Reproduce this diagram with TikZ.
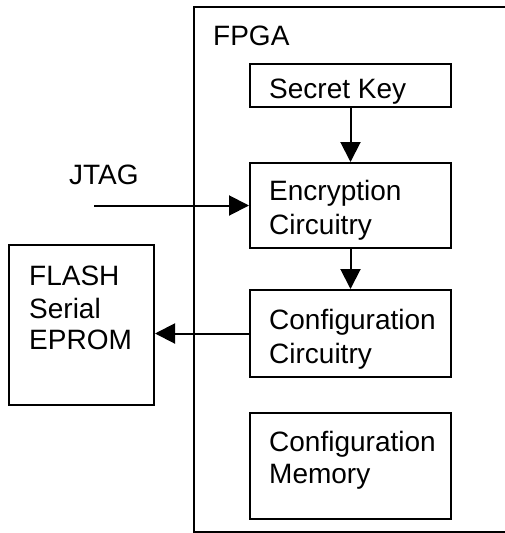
\documentclass[tikz,border=0pt]{standalone}
\usepackage{fontspec}
\setmainfont{Liberation Sans}
\usetikzlibrary{arrows.meta}
\begin{document}
\begin{tikzpicture}[x=1pt,y=-1pt,
  box/.style={draw,line width=2pt,rectangle,inner sep=0pt},
  lbl/.style={inner sep=0pt,anchor=base west,align=left,font=\fontsize{28}{33.5}\selectfont},
  conn/.style={line width=2pt,-{Triangle[length=20pt,width=20pt]}}]
\useasboundingbox (0,0) rectangle (505,533);
% FPGA outer box (right edge beyond the picture)
\draw[line width=2pt] (530,7) -- (194,7) -- (194,532) -- (530,532);
\node[lbl] (fpgatxt) at (213,45) {FPGA};
% boxes
\node[box,minimum width=201pt,minimum height=43pt] (key) at (350.5,85.5) {};
\node[box,minimum width=201pt,minimum height=85pt] (enc) at (350.5,205.5) {};
\node[box,minimum width=201pt,minimum height=87pt] (cc) at (350.5,333.5) {};
\node[box,minimum width=201pt,minimum height=106pt] (cm) at (350.5,466) {};
\node[box,minimum width=145pt,minimum height=160pt] (flash) at (81.5,325) {};
% texts
\node[lbl] (keytxt) at (269,98) {Secret Key};
\node[lbl] (enctxt1) at (269,200) {Encryption};
\node[lbl] (enctxt2) at (269,234) {Circuitry};
\node[lbl] (cctxt1) at (269,329) {Configuration};
\node[lbl] (cctxt2) at (269,363) {Circuitry};
\node[lbl] (cmtxt1) at (269,451) {Configuration};
\node[lbl] (cmtxt2) at (269,483) {Memory};
\node[lbl] (fltxt1) at (29,285) {FLASH};
\node[lbl] (fltxt2) at (29,318) {Serial};
\node[lbl] (fltxt3) at (29,349) {EPROM};
\node[lbl] (jtag) at (69,184) {JTAG};
% connectors
\coordinate (jtagin) at (94,205.5);
\draw[conn] (key.south) -- (enc.north);
\draw[conn] (enc.south) -- (cc.north);
\draw[conn] (jtagin) -- (enc.west);
\draw[conn] (cc.west) -- (cc.west -| flash.east);
\end{tikzpicture}
\end{document}
